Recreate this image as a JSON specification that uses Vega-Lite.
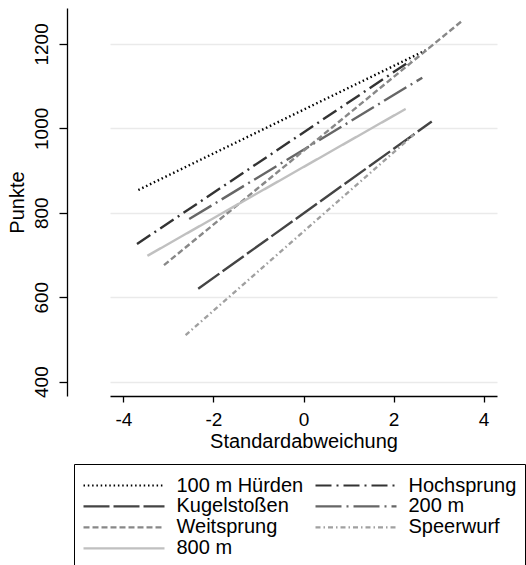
{
  "$schema": "https://vega.github.io/schema/vega-lite/v6.json",
  "width": 387,
  "height": 388,
  "padding": {"left": 110, "top": 8, "right": 29, "bottom": 169},
  "autosize": {"type": "none"},
  "background": "white",
  "config": {
    "view": {"stroke": null},
    "font": "Liberation Sans"
  },
  "data": {
    "values": [
      {"event": "100 m Hürden", "x": -3.67, "y": 854},
      {"event": "100 m Hürden", "x": 2.78, "y": 1188},
      {"event": "Hochsprung", "x": -3.70, "y": 726},
      {"event": "Hochsprung", "x": 2.38, "y": 1160},
      {"event": "Kugelstoßen", "x": -2.34, "y": 620},
      {"event": "Kugelstoßen", "x": 2.85, "y": 1016},
      {"event": "200 m", "x": -2.54, "y": 785},
      {"event": "200 m", "x": 2.64, "y": 1120},
      {"event": "Weitsprung", "x": -3.10, "y": 676},
      {"event": "Weitsprung", "x": 3.53, "y": 1255},
      {"event": "Speerwurf", "x": -2.62, "y": 510},
      {"event": "Speerwurf", "x": 2.45, "y": 985},
      {"event": "800 m", "x": -3.47, "y": 698},
      {"event": "800 m", "x": 2.27, "y": 1046}
    ]
  },
  "mark": {"type": "line", "strokeWidth": 2.4, "clip": true},
  "encoding": {
    "x": {
      "field": "x", "type": "quantitative",
      "scale": {"domain": [-4.3, 4.3], "nice": false, "zero": false},
      "axis": {
        "title": "Standardabweichung",
        "values": [-4, -2, 0, 2, 4],
        "labelExpr": "replace(datum.label, '−', '-')",
        "grid": false,
        "domainColor": "#000", "domainWidth": 1.3,
        "tickColor": "#000", "tickSize": 6, "tickWidth": 1.3,
        "labelFontSize": 19, "labelColor": "#000", "labelPadding": 8,
        "titleFontSize": 20, "titleFontWeight": "normal", "titleColor": "#000", "titlePadding": 2
      }
    },
    "y": {
      "field": "y", "type": "quantitative",
      "scale": {"domain": [366, 1285], "nice": false, "zero": false},
      "axis": {
        "title": "Punkte",
        "format": "d",
        "values": [400, 600, 800, 1000, 1200],
        "offset": 43,
        "grid": true, "gridColor": "#eaeaea", "gridWidth": 1.5,
        "domainColor": "#000", "domainWidth": 1.3,
        "tickColor": "#000", "tickSize": 8, "tickWidth": 1.3,
        "labelFontSize": 19, "labelColor": "#000", "labelPadding": 12,
        "labelAngle": -90, "labelAlign": "center", "labelBaseline": "alphabetic",
        "titleFontSize": 20, "titleFontWeight": "normal", "titleColor": "#000", "titlePadding": 5
      }
    },
    "color": {
      "field": "event", "type": "nominal",
      "scale": {
        "domain": ["100 m Hürden", "Kugelstoßen", "Weitsprung", "800 m", "Hochsprung", "200 m", "Speerwurf"],
        "range": ["#000000", "#444444", "#888888", "#c0c0c0", "#333333", "#666666", "#a0a0a0"]
      },
      "legend": {
        "title": " ",
        "titleFontSize": 3,
        "titlePadding": 0,
        "orient": "none",
        "legendX": -36,
        "legendY": 456,
        "columns": 2,
        "symbolType": "stroke",
        "symbolSize": 6561,
        "clipHeight": 20.8,
        "symbolStrokeWidth": 2.2,
        "labelFontSize": 20,
        "labelColor": "#000",
        "labelOffset": 10.5,
        "labelLimit": 300,
        "rowPadding": 0,
        "columnPadding": 10,
        "padding": 8,
        "strokeColor": "#000",
        "fillColor": "#fff"
      }
    },
    "strokeDash": {
      "field": "event", "type": "nominal",
      "scale": {
        "domain": ["100 m Hürden", "Kugelstoßen", "Weitsprung", "800 m", "Hochsprung", "200 m", "Speerwurf"],
        "range": [[1.5, 2.8], [26, 4], [6, 3], [1, 0], [16, 5, 2, 5], [26, 5, 2, 5], [5, 3, 1.5, 3]]
      },
      "legend": {
        "title": " ",
        "titleFontSize": 3,
        "titlePadding": 0,
        "orient": "none",
        "legendX": -36,
        "legendY": 456,
        "columns": 2,
        "symbolType": "stroke",
        "symbolSize": 6561,
        "clipHeight": 20.8,
        "symbolStrokeWidth": 2.2,
        "labelFontSize": 20,
        "labelColor": "#000",
        "labelOffset": 10.5,
        "labelLimit": 300,
        "rowPadding": 0,
        "columnPadding": 10,
        "padding": 8,
        "strokeColor": "#000",
        "fillColor": "#fff"
      }
    }
  }
}
